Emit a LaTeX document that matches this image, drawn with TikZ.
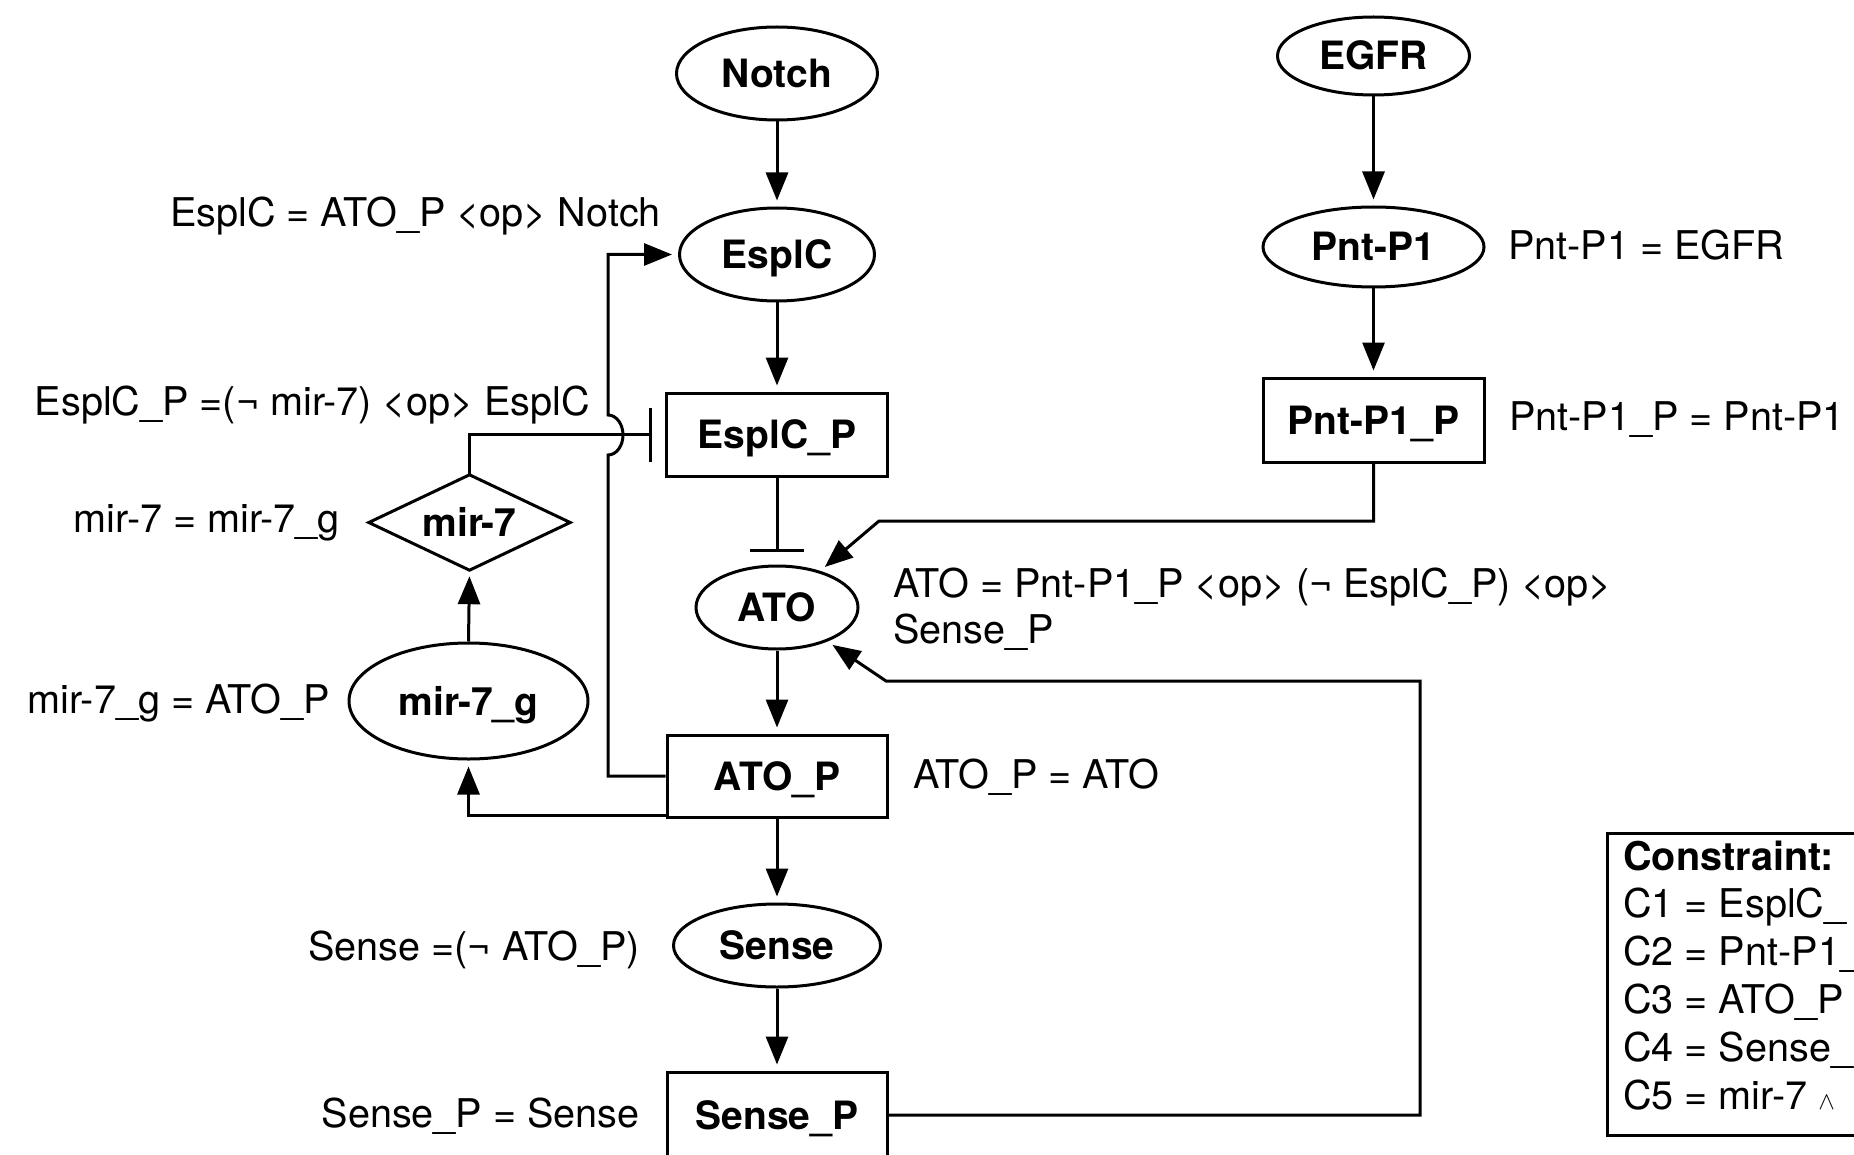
\documentclass[tikz,border=0pt]{standalone}
\usepackage{fontspec}
\setmainfont{TeX Gyre Heros}
\usetikzlibrary{arrows.meta,shapes.geometric}
\begin{document}
\begin{tikzpicture}[x=1pt,y=-1pt,
  nodefont/.style={font=\fontsize{39}{46}\selectfont\bfseries, text height=28pt, text depth=0pt, inner sep=0pt},
  ell/.style={nodefont, draw, ellipse, line width=3pt},
  box/.style={nodefont, draw, rectangle, line width=3pt},
  lbl/.style={inner sep=0pt, font=\fontsize{39.6}{46}\selectfont},
  lblb/.style={inner sep=0pt, font=\fontsize{39.6}{46}\selectfont\bfseries},
  arr/.style={line width=3pt, -{Triangle[length=28pt,width=22pt]}, shorten >=6pt},
  inh/.style={line width=3pt, -{Bar[width=54pt]}, shorten >=13pt},
  frame/.style={line width=3pt}]
\useasboundingbox (0,0) rectangle (1854,1155);
\clip (0,0) rectangle (1854,1155);

% main column
\node[ell, minimum width=201pt, minimum height=93pt] (notch) at (777,73.5) {Notch};
\node[ell, minimum width=195pt, minimum height=93pt] (espc) at (777,254.5) {EsplC};
\node[box, minimum width=221pt, minimum height=83pt] (epp) at (777,434.5) {EsplC\_P};
\node[ell, minimum width=162pt, minimum height=83pt] (ato) at (777,607.5) {ATO};
\node[box, minimum width=220pt, minimum height=82pt] (atop) at (777,776) {ATO\_P};
\node[ell, minimum width=207pt, minimum height=83pt] (sense) at (777,945.5) {Sense};
\node[box, minimum width=220pt, minimum height=86pt] (sp) at (777,1115) {Sense\_P};

% right column
\node[ell, minimum width=192pt, minimum height=78pt] (egfr) at (1373.5,56) {EGFR};
\node[ell, minimum width=221pt, minimum height=80pt] (pnt) at (1373.5,247) {Pnt-P1};
\node[box, minimum width=221pt, minimum height=84pt] (pntp) at (1373.5,420) {Pnt-P1\_P};

% left column
\node[nodefont, minimum width=201pt, minimum height=95pt] (m7) at (469.5,522.5) {mir-7};
\draw[frame] (m7.north) -- (m7.east) -- (m7.south) -- (m7.west) -- cycle;
\node[ell, minimum width=239pt, minimum height=116pt] (m7g) at (468.5,701) {mir-7\_g};

% connectors
\draw[arr] (notch.south) -- (espc.north);
\draw[arr] (espc.south) -- (epp.north);
\draw[inh] (epp.south) -- (ato.north);
\draw[arr] (ato.south) -- (atop.north);
\draw[arr] (atop.south) -- (sense.north);
\draw[arr] (sense.south) -- (sp.north);
\draw[arr] (egfr.south) -- (pnt.north);
\draw[arr] (pnt.south) -- (pntp.north);
\draw[arr] (pntp.south) -- (1373.5,521) -- (879,521) -- (ato);
\draw[arr] (sp.east) -- (1420,1115) -- (1420,681) -- (886,681) -- (ato);
\draw[arr] (m7g.north) -- (m7.south);
\draw[arr] ([yshift=3pt]atop.south west) -| (m7g.south);
\draw[inh] (m7.north) |- (epp.west);
\draw[arr] (atop.west) -- (608,776) -- (608,455)
  arc[start angle=-90,end angle=90,x radius=15pt,y radius=20pt] |- (espc.west);

% labels
\node[lbl, anchor=base east] (lespc) at (661,227) {EsplC = ATO\_P <op> Notch};
\node[lbl, anchor=base east] (lepp) at (590,415) {EsplC\_P =(¬ mir-7) <op> EsplC};
\node[lbl, anchor=base east] (lm7) at (340,532) {mir-7 = mir-7\_g};
\node[lbl, anchor=base east] (lm7g) at (330,713) {mir-7\_g = ATO\_P};
\node[lbl, anchor=base east] (lsense) at (640,960) {Sense =(¬ ATO\_P)};
\node[lbl, anchor=base east] (lsp) at (640,1127) {Sense\_P = Sense};
\node[lbl, anchor=base west] (latop) at (913,788) {ATO\_P = ATO};
\node[lbl, anchor=base west] (lato1) at (893,597) {ATO = Pnt-P1\_P <op> (¬ EsplC\_P) <op>};
\node[lbl, anchor=base west] (lato2) at (893,643) {Sense\_P};
\node[lbl, anchor=base west] (lpnt) at (1508,260) {Pnt-P1 = EGFR};
\node[lbl, anchor=base west] (lpntp) at (1509,430) {Pnt-P1\_P = Pnt-P1};

% constraint box
\draw[frame] (1607,833) rectangle (1890,1135);
\node[lblb, anchor=base west] (cons) at (1623,870) {Constraint:};
\node[lbl, anchor=base west] (c1) at (1623,917) {C1 = EsplC\_};
\node[lbl, anchor=base west] (c2) at (1623,965) {C2 = Pnt-P1\_};
\node[lbl, anchor=base west] (c3) at (1623,1013) {C3 = ATO\_P};
\node[lbl, anchor=base west] (c4) at (1623,1061) {C4 = Sense\_};
\node[lbl, anchor=base west] (c5) at (1623,1109) {C5 = mir-7 {\fontsize{24}{24}\selectfont$\wedge$}};
\end{tikzpicture}
\end{document}
